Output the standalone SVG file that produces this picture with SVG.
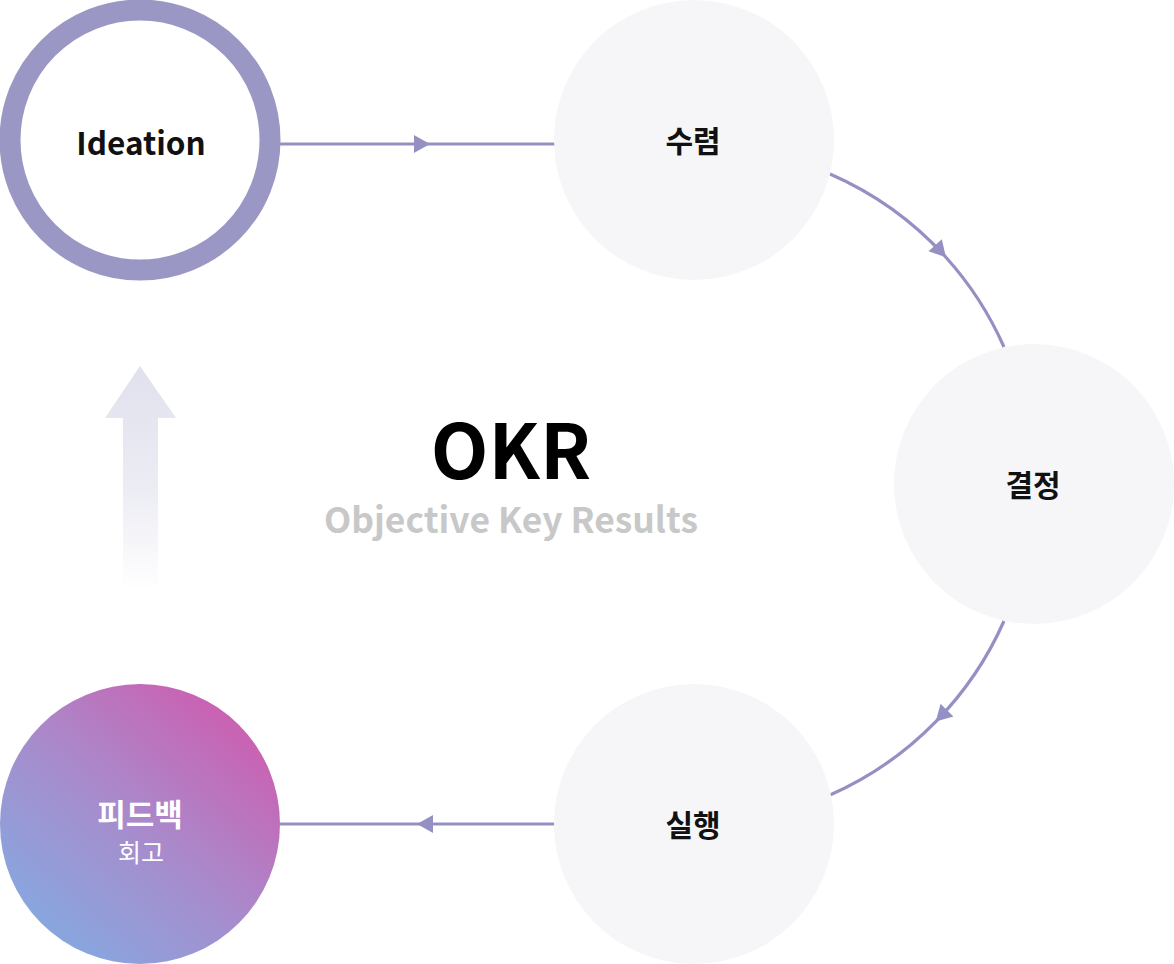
<svg xmlns="http://www.w3.org/2000/svg" width="1174" height="964" viewBox="0 0 1174 964">
<style>
.node{fill:#f6f6f8}
.lbl{font-family:"Noto Sans CJK KR","Noto Sans",sans-serif;font-weight:700;font-size:30px;fill:#111;text-anchor:middle}
.conn{fill:none;stroke:#9590c3;stroke-width:3.2}
</style>
<defs>
<marker id="ah" markerUnits="userSpaceOnUse" markerWidth="18" markerHeight="20" refX="16" refY="9" orient="auto" overflow="visible">
<path d="M0,0 L16,9 L0,18 z" fill="#9590c3"/>
</marker>
<linearGradient id="fb" x1="0.15" y1="0.9" x2="0.85" y2="0.1">
<stop offset="0" stop-color="#86a8e0"/>
<stop offset="0.5" stop-color="#a98acb"/>
<stop offset="1" stop-color="#cc5fb1"/>
</linearGradient>
<linearGradient id="up" x1="0" y1="0" x2="0" y2="1">
<stop offset="0" stop-color="#e1e1ee"/>
<stop offset="0.55" stop-color="#ececf4"/>
<stop offset="1" stop-color="#ffffff"/>
</linearGradient>
</defs>
<rect width="1174" height="964" fill="#ffffff"/>
<g id="connectors">
<path class="conn" marker-mid="url(#ah)" d="M280,144 L430,144 L555,144"/>
<path class="conn" marker-mid="url(#ah)" d="M830,174 A339,339 0 0 1 945.9,257.2 A339,339 0 0 1 1004,347"/>
<path class="conn" marker-mid="url(#ah)" d="M1004,621 A339,339 0 0 1 935.8,721.6 A339,339 0 0 1 830,795"/>
<path class="conn" marker-mid="url(#ah)" d="M555,824 L417,824 L280,824"/>
</g>
<g id="feedback-arrow">
<path d="M123,418 L105,418 L140,366 L176,418 L158,418 L158,590 L123,590 Z" fill="url(#up)"/>
</g>
<g id="ideation">
<circle cx="140" cy="140" r="130" fill="#ffffff" stroke="#9b97c4" stroke-width="21"/>
<text class="lbl" x="141" y="155" style="font-size:31.5px">Ideation</text>
</g>
<g id="converge">
<circle class="node" cx="694" cy="140" r="140"/>
<text class="lbl" x="693" y="152">수렴</text>
</g>
<g id="decide">
<circle class="node" cx="1034" cy="484" r="140"/>
<text class="lbl" x="1033" y="496">결정</text>
</g>
<g id="execute">
<circle class="node" cx="694" cy="824" r="140"/>
<text class="lbl" x="693" y="836">실행</text>
</g>
<g id="feedback">
<circle cx="140" cy="824" r="140" fill="url(#fb)"/>
<text class="lbl" x="140" y="826" style="fill:#ffffff;font-size:31px">피드백</text>
<text x="141" y="862" font-family="Noto Sans CJK KR, Noto Sans, sans-serif" font-size="25" fill="#ffffff" text-anchor="middle">회고</text>
</g>
<g id="title">
<text x="511" y="479" font-family="Noto Sans CJK KR, Noto Sans, sans-serif" font-weight="700" font-size="75" fill="#000" text-anchor="middle">OKR</text>
<text x="511" y="533" font-family="Noto Sans CJK KR, Noto Sans, sans-serif" font-weight="700" font-size="35.4" fill="#c8c8c8" text-anchor="middle">Objective Key Results</text>
</g>
</svg>
